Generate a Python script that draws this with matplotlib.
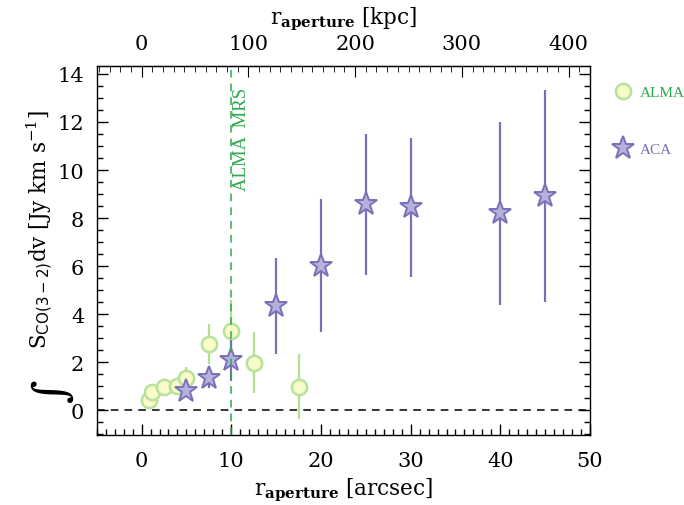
import matplotlib
matplotlib.use("Agg")
import matplotlib.pyplot as plt
from matplotlib.ticker import MultipleLocator, FixedLocator

plt.rcParams['font.family'] = ['DejaVu Serif']
plt.rcParams['mathtext.fontset'] = 'dejavuserif'

# ALMA data (arcsec, Jy km/s)
alma_r = [0.8, 1.2, 2.5, 4.0, 5.0, 7.5, 10.0, 12.5, 17.5]
alma_s = [0.43, 0.74, 0.97, 1.01, 1.33, 2.76, 3.28, 1.98, 0.98]
alma_err = [0.1, 0.1, 0.1, 0.1, 0.45, 0.84, 1.3, 1.28, 1.36]

# ACA data
aca_r = [5.0, 7.5, 10.0, 15.0, 20.0, 25.0, 30.0, 40.0, 45.0]
aca_s = [0.78, 1.36, 2.07, 4.33, 6.02, 8.57, 8.44, 8.19, 8.93]
aca_err = [0.2, 0.42, 0.86, 2.0, 2.78, 2.93, 2.88, 3.82, 4.42]

kpc_ticks = [0, 100, 200, 300, 400]
kpc_per_arcsec = 8.4
mrs = 10.0

alma_line = '#b3e08f'
alma_face = '#f7fcc9'
alma_edge = '#b8e29c'
aca_line = '#7a70b8'
aca_face = '#b4b2dc'
aca_edge = '#7a70b8'
mrs_col = '#2ea84f'

fig = plt.figure(figsize=(6.84, 5.06), dpi=100)
ax = fig.add_axes([0.1414, 0.1389, 0.7212, 0.7287])

ax.errorbar(alma_r, alma_s, yerr=alma_err, fmt='none', ecolor=alma_line, elinewidth=1.6, capsize=0, zorder=2)
h_alma, = ax.plot(alma_r, alma_s, 'o', ms=11, mfc=alma_face, mec=alma_edge, mew=1.8, ls='none', zorder=3, label='ALMA')
ax.errorbar(aca_r, aca_s, yerr=aca_err, fmt='none', ecolor=aca_line, elinewidth=1.6, capsize=0, zorder=4)
h_aca, = ax.plot(aca_r, aca_s, '*', ms=17, mfc=aca_face, mec=aca_edge, mew=1.4, ls='none', zorder=5, label='ACA')

ax.axhline(0, color='black', ls=(0, (5, 4)), lw=1.1, zorder=6)
ax.axvline(mrs, color=mrs_col, ls=(0, (5, 4)), lw=1.1, zorder=6)
ax.text(mrs + 1.1, 13.45, 'ALMA  MRS', rotation=90, color=mrs_col, fontsize=13.5,
        ha='center', va='top', family='Liberation Serif')

ax.set_xlim(-5, 50)
ax.set_ylim(-1.02, 14.33)
ax.xaxis.set_major_locator(MultipleLocator(10))
ax.xaxis.set_minor_locator(MultipleLocator(1))
ax.yaxis.set_major_locator(MultipleLocator(2))
ax.yaxis.set_minor_locator(MultipleLocator(0.5))
ax.tick_params(which='both', direction='in', bottom=True, left=True, right=True, top=False, labelsize=15)
ax.tick_params(which='major', length=8, width=1)
ax.tick_params(which='minor', length=4, width=1)
ax.tick_params(axis='x', pad=12)
ax.tick_params(axis='y', pad=9)

ax.set_xlabel(r'$\mathrm{r}_{\mathbf{aperture}}$ [arcsec]', fontsize=15.5, labelpad=4)
ax.set_ylabel(r'$\mathrm{S}_{\mathsf{CO(3-2)}}\mathrm{dv}$ [Jy km s$^{-1}$]', fontsize=15.5)
ax.yaxis.set_label_coords(-0.085, 0.56)
fig.text(0.077, 0.226, r'$\int$', rotation=90, fontsize=23, ha='center', va='center')

sec = ax.secondary_xaxis('top', functions=(lambda a: a * kpc_per_arcsec, lambda k: k / kpc_per_arcsec))
sec.xaxis.set_major_locator(FixedLocator(kpc_ticks))
sec.xaxis.set_minor_locator(FixedLocator(list(range(-40, 421, 10))))
sec.tick_params(which='both', direction='in', labelsize=15, pad=9)
sec.tick_params(which='major', length=8)
sec.tick_params(which='minor', length=4)
sec.set_xlabel(r'$\mathrm{r}_{\mathbf{aperture}}$ [kpc]', fontsize=15.5, labelpad=8)

for s in ax.spines.values():
    s.set_linewidth(1.0)

leg = ax.legend(handles=[h_alma, h_aca], loc='upper left', bbox_to_anchor=(1.036, 0.963),
                frameon=False, labelspacing=2.8, handletextpad=0.5,
                handlelength=1.2, labelcolor=[mrs_col, aca_line], borderaxespad=0,
                prop={'family': 'Liberation Serif', 'size': 11})

fig.savefig('out.png', dpi=100)
